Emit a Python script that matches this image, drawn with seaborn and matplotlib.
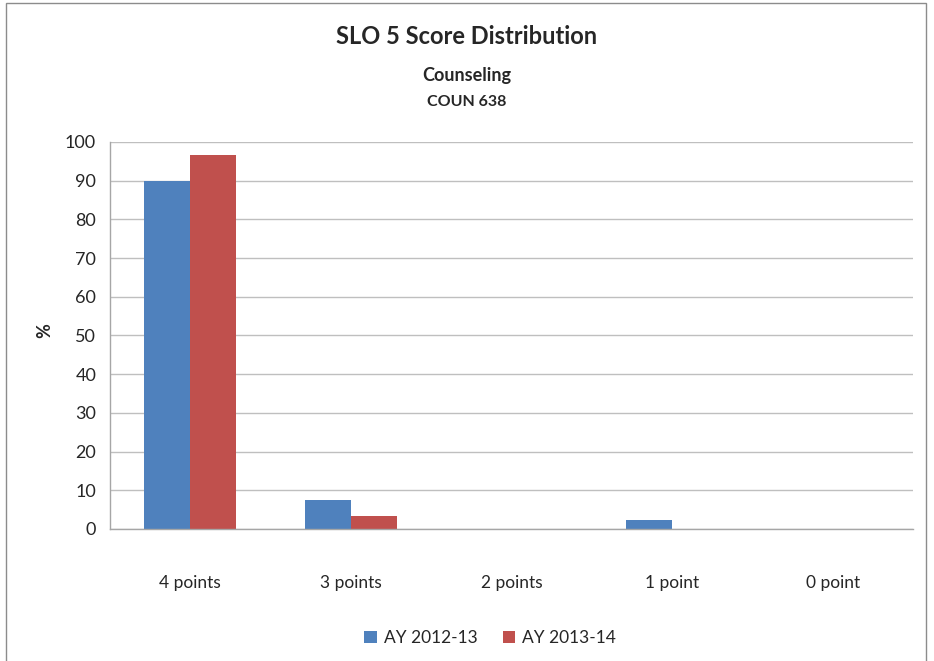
import pandas as pd
import numpy as np
import matplotlib
matplotlib.use('Agg')
import matplotlib.pyplot as plt
import seaborn as sns

## data
categories = ['4 points', '3 points', '2 points', '1 point', '0 point']
ay_2012 = [90.0, 7.4, 0.0, 2.4, 0.0]
ay_2013 = [96.7, 3.3, 0.0, 0.0, 0.0]
series = ['AY 2012-13', 'AY 2013-14']
colors = ['#4F81BD', '#C0504D']

data = pd.DataFrame({
    'score': categories * 2,
    'pct': ay_2012 + ay_2013,
    'year': [series[0]] * len(categories) + [series[1]] * len(categories),
})

sns.set_style('white')
plt.rcParams['font.family'] = ['Lato', 'DejaVu Sans']

fig = plt.figure(figsize=(9.34, 6.61), dpi=100)
ax = fig.add_axes([0.1178, 0.1997, 0.8597, 0.5855])

sns.barplot(data=data, x='score', y='pct', hue='year', order=categories,
            hue_order=series, palette=colors, width=0.575, gap=0,
            saturation=1, linewidth=0, ax=ax, legend=True)

## axes look
ax.set_ylim(0, 100)
ax.set_yticks(range(0, 101, 10))
ax.set_xlim(-0.5, len(categories) - 0.5)
ax.yaxis.grid(True, color='#BFBFBF', linewidth=1)
ax.set_axisbelow(True)
for s in ['top', 'right']:
    ax.spines[s].set_visible(False)
for s in ['left', 'bottom']:
    ax.spines[s].set_color('#A6A6A6')
    ax.spines[s].set_linewidth(1)
ax.tick_params(axis='y', length=0, labelsize=13, pad=10)
ax.tick_params(axis='x', which='major', length=0, labelsize=12.5, pad=33)
ax.set_xticks(np.arange(-0.5, len(categories), 1), minor=True)
ax.tick_params(axis='x', which='minor', length=6, color='#A6A6A6', width=1)
ax.set_xlabel('')
ax.set_ylabel('')
fig.text(0.048, 0.5, '%', rotation=90, ha='center', va='center',
         fontsize=13, fontweight='bold')

## titles
fig.text(0.5, 0.945, 'SLO 5 Score Distribution', ha='center', va='center',
         fontsize=17, fontweight='bold')
fig.text(0.5, 0.886, 'Counseling', ha='center', va='center',
         fontsize=13, fontweight='bold')
fig.text(0.5, 0.846, 'COUN 638', ha='center', va='center',
         fontsize=11.5, fontweight='bold')

## legend at the bottom
handles, labels = ax.get_legend_handles_labels()
ax.get_legend().remove()
fig.legend(handles, labels, loc='center', bbox_to_anchor=(0.525, 0.035), ncol=2,
           frameon=False, fontsize=12.5, handlelength=0.7, handleheight=0.7,
           columnspacing=1.5, handletextpad=0.4)

## outer frame
fig.patches.append(plt.Rectangle((0.006, -0.01), 0.985, 1.005, transform=fig.transFigure,
                                 fill=False, edgecolor='#8C8C8C', linewidth=1))

plt.savefig('out.png', dpi=100)
